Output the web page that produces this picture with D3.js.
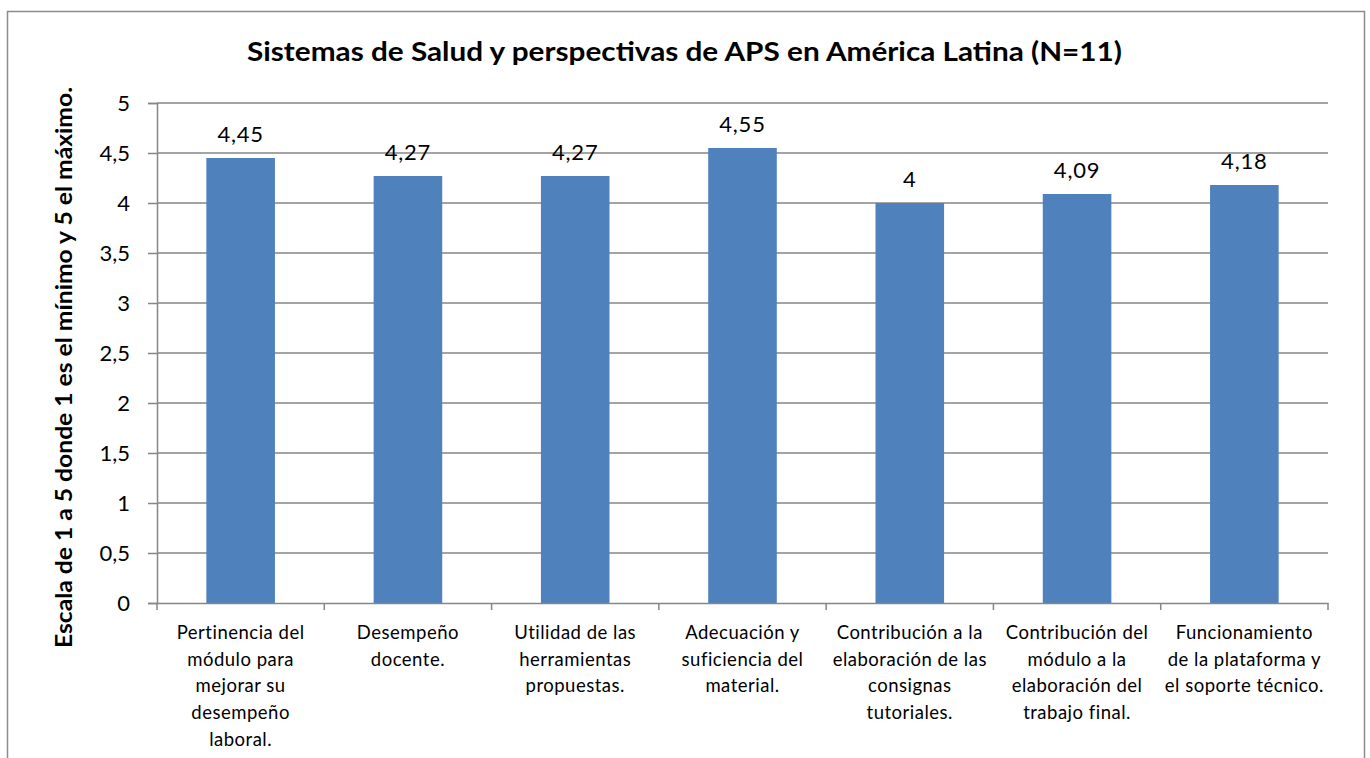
<!DOCTYPE html>
<html>
<head>
<meta charset="utf-8">
<script src="https://cdn.jsdelivr.net/npm/d3@7"></script>
<style>
  html, body { margin: 0; padding: 0; background: #fff; }
  svg { display: block; }
  text { font-family: Lato, "Open Sans", sans-serif; fill: #000; }
</style>
</head>
<body>
<svg id="chart" width="1370" height="758"></svg>
<script>
const titleText = "Sistemas de Salud y perspectivas de APS en América Latina (N=11)";
const yAxisTitle = "Escala  de 1 a 5 donde 1 es el mínimo y 5 el máximo.";
const categories = [
  "Pertinencia del módulo para mejorar su desempeño laboral.",
  "Desempeño docente.",
  "Utilidad de las herramientas propuestas.",
  "Adecuación y suficiencia del material.",
  "Contribución a la elaboración de las consignas tutoriales.",
  "Contribución del módulo a la elaboración del trabajo final.",
  "Funcionamiento de la plataforma y el soporte técnico."
];
const categoryLines = [
  ["Pertinencia del", "módulo para", "mejorar su", "desempeño", "laboral."],
  ["Desempeño", "docente."],
  ["Utilidad de las", "herramientas", "propuestas."],
  ["Adecuación y", "suficiencia del", "material."],
  ["Contribución a la", "elaboración de las", "consignas", "tutoriales."],
  ["Contribución del", "módulo a la", "elaboración del", "trabajo final."],
  ["Funcionamiento", "de la plataforma y", "el soporte técnico."]
];
const values = [4.45, 4.27, 4.27, 4.55, 4, 4.09, 4.18];
const valueLabels = ["4,45", "4,27", "4,27", "4,55", "4", "4,09", "4,18"];
const yTicks = [0, 0.5, 1, 1.5, 2, 2.5, 3, 3.5, 4, 4.5, 5];
const yTickLabels = ["0", "0,5", "1", "1,5", "2", "2,5", "3", "3,5", "4", "4,5", "5"];

const svg = d3.select("#chart");
const plot = { left: 157, right: 1328, top: 103, bottom: 603 };
const gridColor = "#868686";
const barColor = "#4F81BD";

// outer frame
svg.append("rect")
  .attr("x", 7.5).attr("y", 11.5)
  .attr("width", 1357).attr("height", 760)
  .attr("fill", "none").attr("stroke", "#8c8c8c").attr("stroke-width", 1.5);

const x = d3.scaleBand().domain(categories).range([plot.left, plot.right]).padding(0);
const y = d3.scaleLinear().domain([0, 5]).range([plot.bottom, plot.top]);

// gridlines
svg.append("g").selectAll("line").data(yTicks.filter(d => d > 0)).join("line")
  .attr("x1", plot.left).attr("x2", plot.right)
  .attr("y1", d => y(d)).attr("y2", d => y(d))
  .attr("stroke", gridColor).attr("stroke-width", 1.5);

// bars
const barW = x.bandwidth() * 0.41;
svg.append("g").selectAll("rect").data(values).join("rect")
  .attr("x", (d, i) => x(categories[i]) + (x.bandwidth() - barW) / 2)
  .attr("y", d => y(d))
  .attr("width", barW)
  .attr("height", d => y(0) - y(d))
  .attr("fill", barColor);

// value labels
svg.append("g").selectAll("text").data(values).join("text")
  .attr("x", (d, i) => x(categories[i]) + x.bandwidth() / 2)
  .attr("y", d => y(d) - 16)
  .attr("text-anchor", "middle")
  .style("font-size", "22px")
  .style("letter-spacing", "0.8px")
  .text((d, i) => valueLabels[i]);

// y axis
const yAxis = d3.axisLeft(y).tickValues(yTicks).tickSize(9).tickPadding(18)
  .tickFormat((d, i) => yTickLabels[i]);
const gy = svg.append("g").attr("transform", `translate(${plot.left},0)`).call(yAxis);
gy.select(".domain").attr("stroke", gridColor).attr("stroke-width", 1.5);
gy.selectAll(".tick line").attr("stroke", gridColor).attr("stroke-width", 1.5);
gy.selectAll(".tick text").style("font-size", "22px").attr("font-family", "Lato").attr("fill", "#000");

// x axis
const xAxis = d3.axisBottom(x).tickSize(0).tickFormat("");
const gx = svg.append("g").attr("transform", `translate(0,${plot.bottom})`).call(xAxis);
gx.select(".domain").attr("stroke", gridColor).attr("stroke-width", 1.5);
// boundary ticks
const bounds = categories.map(c => x(c)).concat([plot.right]);
svg.append("g").selectAll("line").data(bounds).join("line")
  .attr("x1", d => d).attr("x2", d => d)
  .attr("y1", plot.bottom).attr("y2", plot.bottom + 7)
  .attr("stroke", gridColor).attr("stroke-width", 1.5);

// category labels
const catG = svg.append("g");
categoryLines.forEach((lines, i) => {
  const t = catG.append("text")
    .attr("x", x(categories[i]) + x.bandwidth() / 2)
    .attr("y", 639)
    .attr("text-anchor", "middle")
    .style("font-size", "18.5px")
    .style("letter-spacing", "0.5px");
  lines.forEach((ln, j) => {
    t.append("tspan").attr("x", x(categories[i]) + x.bandwidth() / 2)
      .attr("y", 639 + j * 26.7).text(ln);
  });
});

// title
svg.append("text")
  .attr("x", 684.5).attr("y", 61)
  .attr("text-anchor", "middle")
  .attr("textLength", 875).attr("lengthAdjust", "spacingAndGlyphs")
  .style("font-size", "27px").style("font-weight", "bold")
  .text(titleText);

// y axis title
svg.append("text")
  .attr("transform", "translate(72,367.5) rotate(-90)")
  .attr("text-anchor", "middle")
  .attr("textLength", 561).attr("lengthAdjust", "spacingAndGlyphs")
  .style("font-size", "22px").style("font-weight", "bold")
  .text(yAxisTitle);
</script>
</body>
</html>
